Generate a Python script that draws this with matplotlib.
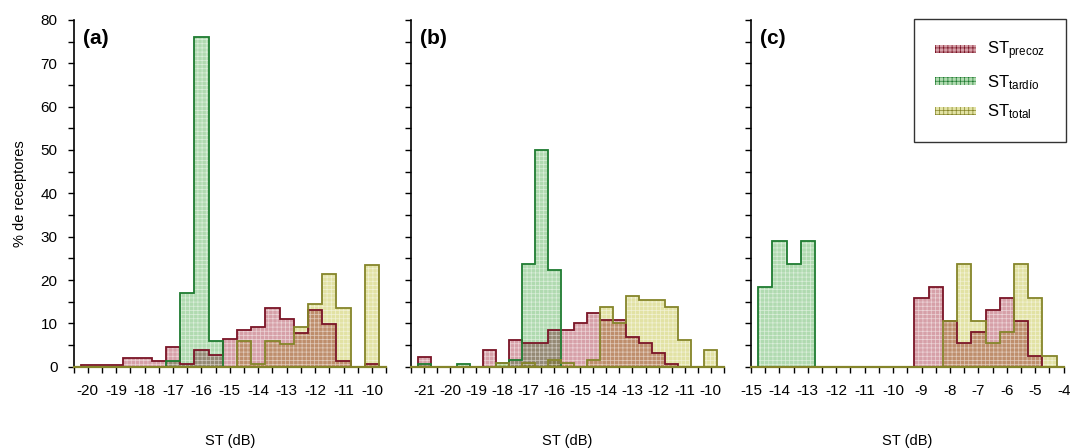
import numpy as np
import matplotlib
matplotlib.use('Agg')
import matplotlib.pyplot as plt
from matplotlib.patches import Patch
from matplotlib.ticker import MultipleLocator
from matplotlib.colors import to_rgb

plt.rcParams['font.family'] = ['Liberation Sans', 'DejaVu Sans']
plt.rcParams['axes.unicode_minus'] = False
plt.rcParams['hatch.linewidth'] = 0.5
plt.rcParams['mathtext.fontset'] = 'custom'
plt.rcParams['mathtext.rm'] = 'Liberation Sans'
plt.rcParams['mathtext.it'] = 'Liberation Sans:italic'

# ---------------- data ----------------
series_names = ['precoz', 'tardío', 'total']

centers_a = [-20, -19.5, -19, -18.5, -18, -17.5, -17, -16.5, -16, -15.5, -15,
             -14.5, -14, -13.5, -13, -12.5, -12, -11.5, -11, -10.5, -10]
precoz_a = [0.5, 0.5, 0.5, 1.9, 1.9, 1.4, 4.6, 0.6, 3.9, 2.6, 6.5,
            8.5, 9.1, 13.6, 11.0, 7.8, 13.0, 9.8, 1.3, 0.0, 0.6]
tardio_a = [0, 0, 0, 0, 0, 0, 1.3, 16.9, 76.0, 5.9, 0,
            0, 0, 0, 0, 0, 0, 0, 0, 0, 0]
total_a = [0, 0, 0, 0, 0, 0, 0, 0, 0, 0, 0,
           5.9, 0.6, 5.9, 5.2, 9.1, 14.4, 21.5, 13.6, 0, 23.5]

centers_b = [-21, -20.5, -20, -19.5, -19, -18.5, -18, -17.5, -17, -16.5, -16,
             -15.5, -15, -14.5, -14, -13.5, -13, -12.5, -12, -11.5, -11, -10.5, -10]
precoz_b = [2.3, 0, 0, 0, 0, 3.9, 0, 6.2, 5.4, 5.4, 8.5,
            8.5, 10.0, 12.3, 10.8, 10.8, 6.8, 5.4, 3.1, 0.7, 0, 0, 0]
tardio_b = [0.7, 0, 0, 0.7, 0, 0, 0.8, 1.5, 23.8, 50.0, 22.3,
            0, 0, 0, 0, 0, 0, 0, 0, 0, 0, 0, 0]
total_b = [0, 0, 0, 0, 0, 0, 0.8, 0, 0.8, 0, 1.5,
           0.8, 0, 1.5, 13.8, 10.0, 16.2, 15.4, 15.4, 13.8, 6.2, 0, 3.8]

centers_c = [-14.5, -14, -13.5, -13, -12.5, -12, -11.5, -11, -10.5, -10, -9.5,
             -9, -8.5, -8, -7.5, -7, -6.5, -6, -5.5, -5, -4.5]
precoz_c = [0, 0, 0, 0, 0, 0, 0, 0, 0, 0, 0,
            15.8, 18.5, 10.6, 5.4, 7.9, 13.1, 15.8, 10.6, 2.5, 0]
tardio_c = [18.5, 29.0, 23.8, 29.0, 0, 0, 0, 0, 0, 0, 0,
            0, 0, 0, 0, 0, 0, 0, 0, 0, 0]
total_c = [0, 0, 0, 0, 0, 0, 0, 0, 0, 0, 0,
           0, 0, 10.6, 23.8, 10.6, 5.4, 7.9, 23.8, 15.8, 2.5]

panel_labels = ['(a)', '(b)', '(c)']
xlims = [(-20.5, -9.5), (-21.5, -9.5), (-15, -4)]
xtick_ranges = [(-20, -10), (-21, -10), (-15, -4)]
yticks = [0, 10, 20, 30, 40, 50, 60, 70, 80]

# ---------------- styles ----------------
fills = ['#d6a0a8', '#b0dab0', '#e2e2a4']
edges_c = ['#7a1426', '#1e7b30', '#85852a']


def mult(*cols):
    r = np.ones(3)
    for c in cols:
        r = r * np.array(to_rgb(c))
    return tuple(r)


fig = plt.figure(figsize=(10.72, 4.48), dpi=100)
bottom = 0.1815
height = 0.7739
lefts = [73.5 / 1072, 411 / 1072, 751 / 1072]
width = 312.7 / 1072

panels = [
    (centers_a, [precoz_a, tardio_a, total_a]),
    (centers_b, [precoz_b, tardio_b, total_b]),
    (centers_c, [precoz_c, tardio_c, total_c]),
]

HATCH = '++++'
HCOL = (1, 1, 1, 0.55)

axes = []
for i, (centers, vals) in enumerate(panels):
    ax = fig.add_axes([lefts[i], bottom, width, height])
    axes.append(ax)
    c = np.array(centers, dtype=float)
    edges = np.append(c - 0.25, c[-1] + 0.25)
    V = [np.array(v, dtype=float) for v in vals]

    # single fills
    for k in range(3):
        ax.stairs(V[k], edges, baseline=0, fill=True, facecolor=fills[k],
                  edgecolor=HCOL, hatch=HATCH, linewidth=0, zorder=1)
    # pairwise overlaps (multiplied colours)
    for (p, q) in [(0, 1), (0, 2), (1, 2)]:
        m = np.minimum(V[p], V[q])
        if m.max() > 0:
            ax.stairs(m, edges, baseline=0, fill=True,
                      facecolor=mult(fills[p], fills[q]),
                      edgecolor=HCOL, hatch=HATCH, linewidth=0, zorder=2)
    m3 = np.minimum(np.minimum(V[0], V[1]), V[2])
    if m3.max() > 0:
        ax.stairs(m3, edges, baseline=0, fill=True,
                  facecolor=mult(*fills), edgecolor=HCOL, hatch=HATCH,
                  linewidth=0, zorder=3)
    # outlines
    for k in [1, 0, 2]:
        ax.stairs(V[k], edges, baseline=0, fill=False, color=edges_c[k],
                  linewidth=1.3, zorder=5 + k)

    ax.set_xlim(*xlims[i])
    ax.set_ylim(0, 80)
    lo, hi = xtick_ranges[i]
    ax.set_xticks(list(range(lo, hi + 1)))
    ax.xaxis.set_minor_locator(MultipleLocator(0.5))
    ax.set_yticks(yticks)
    ax.yaxis.set_minor_locator(MultipleLocator(5))
    ax.tick_params(axis='both', which='both', direction='out', length=4.5,
                   width=1, color='black', labelsize=11)
    ax.tick_params(axis='x', pad=8)
    ax.tick_params(axis='y', pad=7)
    if i > 0:
        ax.set_yticklabels([])
    for s in ['top', 'right']:
        ax.spines[s].set_visible(False)
    ax.spines['left'].set_linewidth(1.2)
    ax.spines['left'].set_color('black')
    ax.spines['bottom'].set_linewidth(1.6)
    ax.spines['bottom'].set_color('#85852a')
    ax.spines['bottom'].set_zorder(10)
    ax.set_xlabel('ST (dB)', fontsize=10.5, labelpad=26)
    ax.text(0.03, 0.948, panel_labels[i], transform=ax.transAxes,
            fontsize=15, fontweight='bold', ha='left', va='center')

axes[0].set_ylabel('% de receptores', fontsize=10.5, labelpad=10)

handles = [Patch(facecolor=fills[k], edgecolor=edges_c[k], hatch=HATCH,
                 linewidth=0) for k in range(3)]
labels = [r'ST$_{\mathregular{%s}}$' % n for n in series_names]
leg = fig.legend(handles, labels, loc='upper right',
                 bbox_to_anchor=(1066 / 1072, 1 - 19 / 448),
                 fontsize=12, frameon=True, fancybox=False, framealpha=1,
                 edgecolor='#333333', handlelength=2.5, handleheight=0.35,
                 handletextpad=0.66, labelspacing=0.65, borderpad=1.25,
                 borderaxespad=0)
leg.get_frame().set_linewidth(1.0)

fig.savefig('out.png', dpi=100)
